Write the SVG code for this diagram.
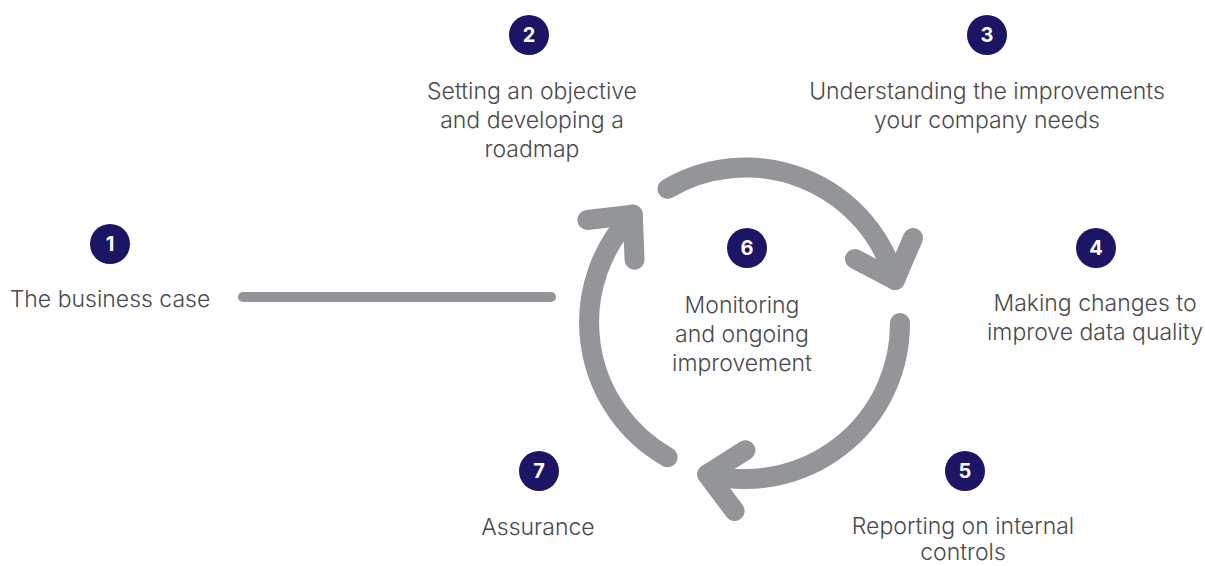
<svg xmlns="http://www.w3.org/2000/svg" width="1205" height="566" viewBox="0 0 1205 566">
<style>
.lbl{font-family:Inter,"Liberation Sans",sans-serif;font-weight:300;font-size:23px;fill:#4a4a4c;text-anchor:middle}
.num{font-family:Inter,"Liberation Sans",sans-serif;font-weight:700;font-size:20px;fill:#ffffff;text-anchor:middle}
.badge{fill:#1c1464}
.con{fill:none;stroke:#939598;stroke-width:20;stroke-linecap:round;stroke-linejoin:round}
</style>
<defs>
<g id="arc">
<path class="con" d="M667.5 188.8 A155 155 0 0 1 895 280"/>
<path class="con" d="M855 259 L895 280 L913 238"/>
</g>
</defs>
<rect width="1205" height="566" fill="#ffffff"/>
<g id="connectors">
<line x1="243" y1="297" x2="551" y2="297" stroke="#939598" stroke-width="10" stroke-linecap="round"/>
<use href="#arc"/>
<use href="#arc" transform="rotate(120 745 323)"/>
<use href="#arc" transform="rotate(240 745 323)"/>
</g>
<g id="node1">
<circle class="badge" cx="110" cy="244" r="20"/><text class="num" x="110" y="251">1</text>
<text class="lbl" x="110" y="307">The business case</text>
</g>
<g id="node2">
<circle class="badge" cx="529" cy="35" r="20"/><text class="num" x="529" y="42">2</text>
<text class="lbl" x="532" y="99">Setting an objective</text>
<text class="lbl" x="532" y="128">and developing a</text>
<text class="lbl" x="532" y="157">roadmap</text>
</g>
<g id="node3">
<circle class="badge" cx="987" cy="35" r="20"/><text class="num" x="987" y="42">3</text>
<text class="lbl" x="987" y="99">Understanding the improvements</text>
<text class="lbl" x="987" y="128">your company needs</text>
</g>
<g id="node4">
<circle class="badge" cx="1096" cy="248" r="20"/><text class="num" x="1096" y="255">4</text>
<text class="lbl" x="1095" y="311">Making changes to</text>
<text class="lbl" x="1095" y="340">improve data quality</text>
</g>
<g id="node5">
<circle class="badge" cx="965" cy="471" r="20"/><text class="num" x="965" y="478">5</text>
<text class="lbl" x="963" y="534">Reporting on internal</text>
<text class="lbl" x="963" y="560">controls</text>
</g>
<g id="node6">
<circle class="badge" cx="747" cy="248" r="20"/><text class="num" x="747" y="255">6</text>
<text class="lbl" x="742" y="313">Monitoring</text>
<text class="lbl" x="742" y="342">and ongoing</text>
<text class="lbl" x="742" y="371">improvement</text>
</g>
<g id="node7">
<circle class="badge" cx="539" cy="471" r="20"/><text class="num" x="539" y="478">7</text>
<text class="lbl" x="538" y="535">Assurance</text>
</g>
</svg>
